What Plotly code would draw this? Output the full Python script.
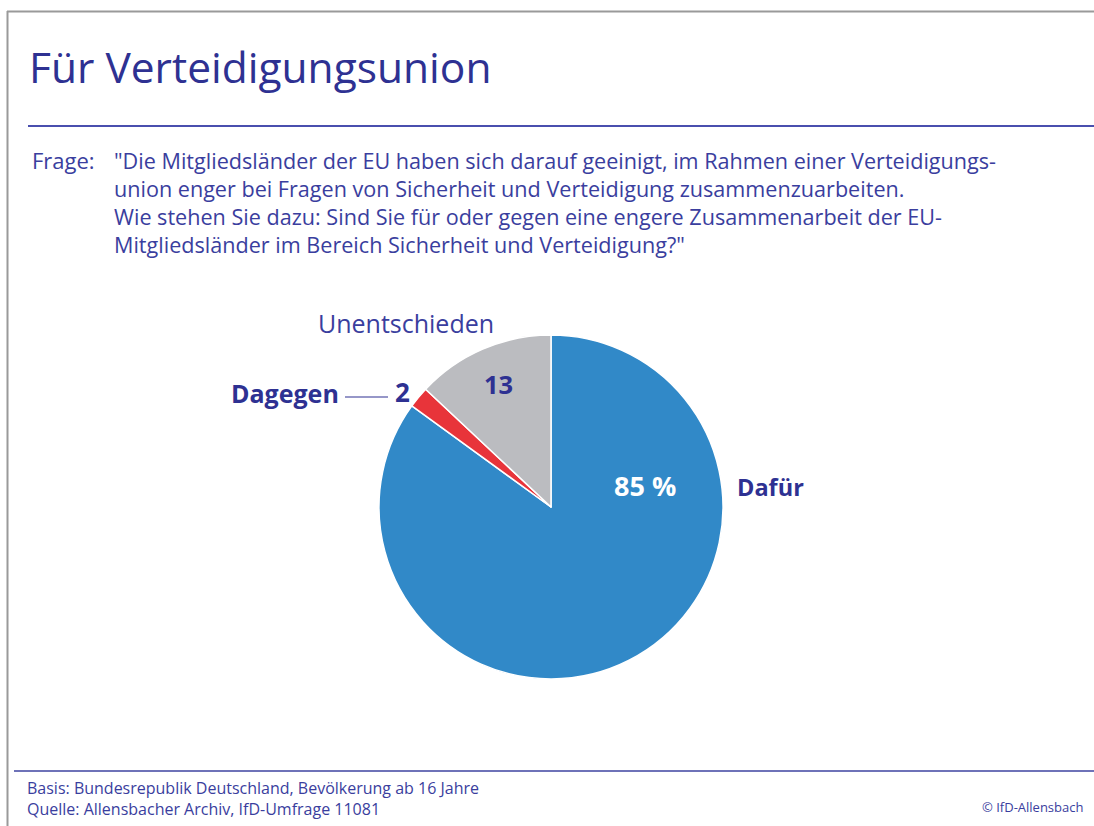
import plotly.graph_objects as go

# ---- data ----
categories = ["Dafür", "Dagegen", "Unentschieden"]
values = [85, 2, 13]
colors = ["#3189C8", "#E8343A", "#BBBCC0"]

title_text = "Für Verteidigungsunion"
question_label = "Frage:"
question_lines = [
    "\"Die Mitgliedsländer der EU haben sich darauf geeinigt, im Rahmen einer Verteidigungs-",
    "union enger bei Fragen von Sicherheit und Verteidigung zusammenzuarbeiten.",
    "Wie stehen Sie dazu: Sind Sie für oder gegen eine engere Zusammenarbeit der EU-",
    "Mitgliedsländer im Bereich Sicherheit und Verteidigung?\"",
]
footer_lines = [
    "Basis: Bundesrepublik Deutschland, Bevölkerung ab 16 Jahre",
    "Quelle: Allensbacher Archiv, IfD-Umfrage 11081",
]
copyright_text = "© IfD-Allensbach"

W, H = 1094, 826
NAVY = "#2E3192"
TXT = "#3A3E9E"
FONT = "Open Sans"


def px(x):
    return x / W


def py(y):
    return 1 - y / H


# pie geometry (pixels)
cx, cy, r = 551, 507, 172

fig = go.Figure()
fig.add_trace(go.Pie(
    labels=categories,
    values=values,
    marker=dict(colors=colors, line=dict(color="white", width=1.5)),
    sort=False,
    direction="clockwise",
    rotation=0,
    textinfo="none",
    hoverinfo="label+value",
    showlegend=False,
    domain=dict(x=[px(cx - r), px(cx + r)], y=[py(cy + r), py(cy - r)]),
))

ann = []


def add_text(x, y, text, size, color=TXT, xanchor="left", bold=False, yanchor="middle"):
    ann.append(dict(
        x=px(x), y=py(y), xref="paper", yref="paper", text=("<b>%s</b>" % text) if bold else text,
        showarrow=False, xanchor=xanchor, yanchor=yanchor, align="left",
        font=dict(family=FONT, size=size, color=color),
    ))


# title
add_text(27, 67, title_text, 42.5, color="#2E3192")
# question
add_text(30, 160, question_label, 22)
add_text(112, 144, "<br>".join(question_lines), 21.6, yanchor="top")

# pie labels
add_text(406, 323, categories[2], 25, xanchor="center")
add_text(498, 384, str(values[2]), 25.5, color=NAVY, xanchor="center", bold=True)
add_text(341, 393, categories[1], 25, color=NAVY, xanchor="right", bold=True)
add_text(402, 392, str(values[1]), 26, color=NAVY, xanchor="center", bold=True)
add_text(645, 485, "%d %%" % values[0], 27, color="white", xanchor="center", bold=True)
add_text(735, 487, categories[0], 23.5, color=NAVY, xanchor="left", bold=True)

# footer
add_text(25, 775, "<br>".join(footer_lines), 16, yanchor="top")
add_text(1085, 807, copyright_text, 13, xanchor="right")

shapes = [
    # outer frame
    dict(type="line", xref="paper", yref="paper", x0=px(7), x1=px(W), y0=py(11.5), y1=py(11.5),
         line=dict(color="#9A9A9A", width=2)),
    dict(type="line", xref="paper", yref="paper", x0=px(7.5), x1=px(7.5), y0=py(11), y1=py(H),
         line=dict(color="#9A9A9A", width=2)),
    # blue rules
    dict(type="line", xref="paper", yref="paper", x0=px(28), x1=px(W), y0=py(126), y1=py(126),
         line=dict(color="#4A4FAE", width=2)),
    dict(type="line", xref="paper", yref="paper", x0=px(14), x1=px(W), y0=py(771), y1=py(771),
         line=dict(color="#6E72B8", width=2)),
    # Dagegen connector
    dict(type="line", xref="paper", yref="paper", x0=px(345), x1=px(388), y0=py(397), y1=py(397),
         line=dict(color=NAVY, width=1.2)),
]

fig.update_layout(
    width=W, height=H,
    margin=dict(l=0, r=0, t=0, b=0),
    paper_bgcolor="white", plot_bgcolor="white",
    annotations=ann, shapes=shapes,
)

fig.write_html(
    "out.html",
    config={"displayModeBar": False},
    post_script="document.body.style.margin='0';document.body.style.overflow='hidden';",
)
